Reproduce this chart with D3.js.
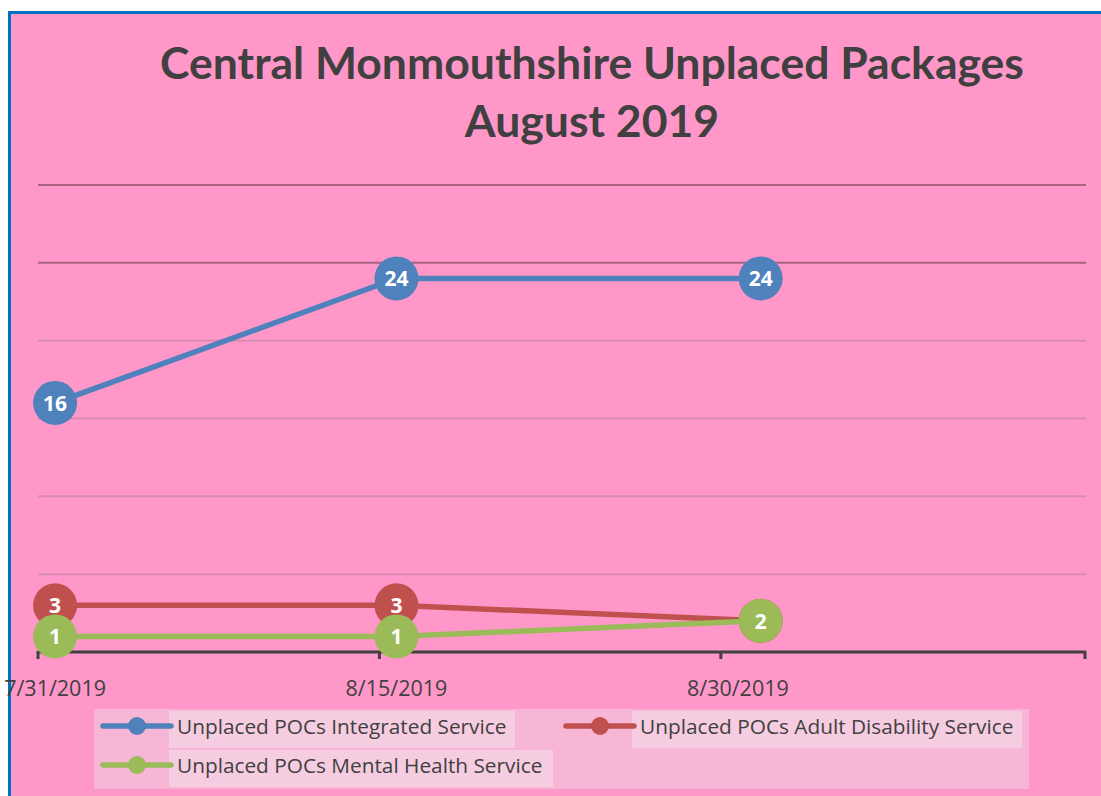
<!DOCTYPE html>
<html>
<head>
<meta charset="utf-8">
<script src="https://cdn.jsdelivr.net/npm/d3@7"></script>
<style>
  body { margin: 0; background: #ffffff; }
  svg { display: block; }
</style>
</head>
<body>
<svg id="chart" width="1101" height="796"></svg>
<script>
// data
const titleLines = ["Central Monmouthshire Unplaced Packages", "August 2019"];
const dates = ["2019-07-31", "2019-08-15", "2019-08-31"];
const tickDates = ["2019-07-31", "2019-08-15", "2019-08-30"];
const seriesNames = [
    "Unplaced POCs Integrated Service",
    "Unplaced POCs Adult Disability Service",
    "Unplaced POCs Mental Health Service"
];
const integrated = [16, 24, 24];
const adultDisability = [3, 3, 2];
const mentalHealth = [1, 1, 2];
const gridValues = [5, 10, 15, 20, 25, 30];

const colors = ["#4f81bd", "#c0504d", "#9bbb59"];
const parse = d3.timeParse("%Y-%m-%d");

const svg = d3.select("#chart");

// chart area background + border
svg.append("rect")
    .attr("x", 9.5).attr("y", 12.5)
    .attr("width", 1100).attr("height", 800)
    .attr("fill", "#ff97c9")
    .attr("stroke", "#0070c0")
    .attr("stroke-width", 3);

// title
svg.selectAll("text.title")
    .data(titleLines)
    .enter()
    .append("text")
    .attr("class", "title")
    .attr("x", 592)
    .attr("y", (d, i) => 79 + i * 58)
    .attr("text-anchor", "middle")
    .attr("font-family", "Lato, 'Open Sans', sans-serif")
    .attr("font-weight", "bold")
    .attr("font-size", 44.5)
    .attr("fill", "#404040")
    .text(d => d);

// scales
const x = d3.scaleTime()
    .domain([new Date(2019, 6, 30, 6), new Date(2019, 8, 14, 6)])
    .range([38, 1085]);
const y = d3.scaleLinear().domain([0, 30]).range([652, 185]);

// gridlines
svg.selectAll("line.grid")
    .data(gridValues)
    .enter()
    .append("line")
    .attr("class", "grid")
    .attr("x1", 38).attr("x2", 1086)
    .attr("y1", d => y(d)).attr("y2", d => y(d))
    .attr("stroke", d => d >= 25 ? "#a8637f" : "#d98cb2")
    .attr("stroke-width", 2);

// x axis
const ticks = tickDates.map(parse).map(d => d3.timeHour.offset(d, -18));
ticks.push(x.domain()[1]);
svg.append("line")
    .attr("x1", x.range()[0]).attr("x2", x.range()[1] + 1)
    .attr("y1", 652).attr("y2", 652)
    .attr("stroke", "#404040")
    .attr("stroke-width", 3);
svg.selectAll("line.tick")
    .data(ticks)
    .enter()
    .append("line")
    .attr("class", "tick")
    .attr("x1", d => x(d)).attr("x2", d => x(d))
    .attr("y1", 651).attr("y2", 659)
    .attr("stroke", "#404040")
    .attr("stroke-width", 3);
svg.selectAll("text.xlabel")
    .data(tickDates)
    .enter()
    .append("text")
    .attr("class", "xlabel")
    .attr("x", d => x(parse(d)))
    .attr("y", 696)
    .attr("text-anchor", "middle")
    .attr("font-family", "'Open Sans', sans-serif")
    .attr("font-size", 21.5)
    .attr("fill", "#404040")
    .text(d => {
        const t = parse(d);
        return (t.getMonth() + 1) + "/" + t.getDate() + "/" + t.getFullYear();
    });

// series
const series = [integrated, adultDisability, mentalHealth].map((vals, i) => ({
    name: seriesNames[i],
    color: colors[i],
    points: vals.map((v, j) => ({ date: parse(dates[j]), value: v }))
}));

const line = d3.line().x(d => x(d.date)).y(d => y(d.value));

const groups = svg.selectAll("g.series")
    .data(series)
    .enter()
    .append("g")
    .attr("class", "series");

groups.append("path")
    .attr("d", d => line(d.points))
    .attr("fill", "none")
    .attr("stroke", d => d.color)
    .attr("stroke-width", 5.5);

groups.each(function (s) {
    const g = d3.select(this);
    g.selectAll("circle")
        .data(s.points)
        .enter()
        .append("circle")
        .attr("cx", d => x(d.date))
        .attr("cy", d => y(d.value))
        .attr("r", 22)
        .attr("fill", s.color);
    g.selectAll("text")
        .data(s.points)
        .enter()
        .append("text")
        .attr("x", d => x(d.date))
        .attr("y", d => y(d.value) + 8)
        .attr("text-anchor", "middle")
        .attr("font-family", "'Open Sans', sans-serif")
        .attr("font-weight", "bold")
        .attr("font-size", 21)
        .attr("fill", "#ffffff")
        .text(d => d.value);
});

// legend
svg.append("rect")
    .attr("x", 94).attr("y", 709)
    .attr("width", 935).attr("height", 80)
    .attr("fill", "#f7b6d6");

const legendPos = [[103, 726], [566, 726], [103, 765]];
const legendBg = [346, 390, 384];
const leg = svg.selectAll("g.legend")
    .data(series)
    .enter()
    .append("g")
    .attr("class", "legend")
    .attr("transform", (d, i) => `translate(${legendPos[i][0]},${legendPos[i][1]})`);
leg.append("rect")
    .attr("x", 66).attr("y", -15)
    .attr("width", (d, i) => legendBg[i]).attr("height", 37)
    .attr("fill", "#f6cde0");
leg.append("line")
    .attr("x1", 0).attr("x2", 68)
    .attr("y1", 0).attr("y2", 0)
    .attr("stroke", d => d.color)
    .attr("stroke-width", 5.5)
    .attr("stroke-linecap", "round");
leg.append("circle")
    .attr("cx", 34).attr("cy", 0)
    .attr("r", 9)
    .attr("fill", d => d.color);
leg.append("text")
    .attr("x", 74).attr("y", 8)
    .attr("font-family", "'Open Sans', sans-serif")
    .attr("font-size", 20.8)
    .attr("fill", "#404040")
    .text(d => d.name);
</script>
</body>
</html>
